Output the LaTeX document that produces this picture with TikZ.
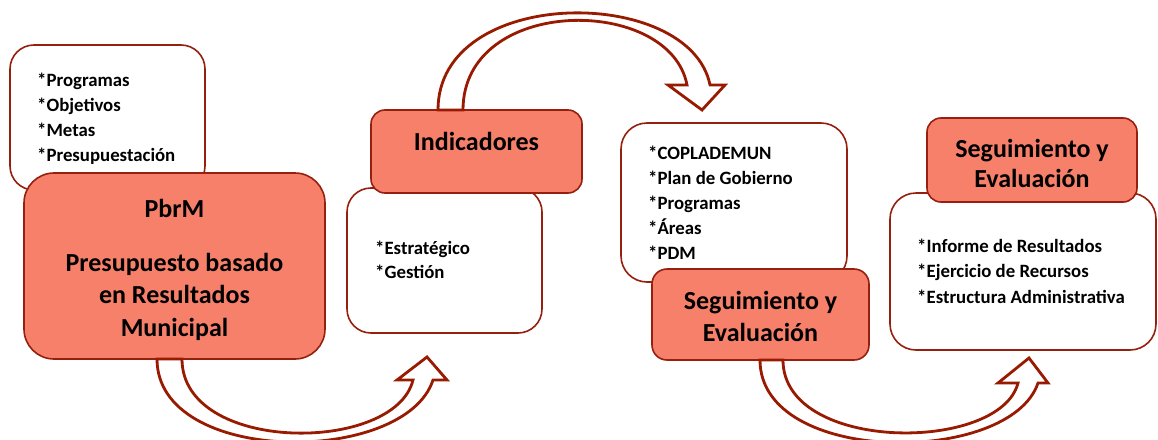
\documentclass[tikz,border=0pt]{standalone}
\usepackage{fontspec}
\setmainfont{Carlito}
\definecolor{salmon}{RGB}{247,128,107}
\definecolor{bord}{RGB}{150,32,14}
\definecolor{arrowc}{RGB}{152,26,0}
\begin{document}
\begin{tikzpicture}[x=1pt,y=-1pt,
  wbox/.style={draw=bord, line width=1.6pt, fill=white, inner sep=0pt, rounded corners=#1},
  rbox/.style={draw=bord, line width=1.6pt, fill=salmon, inner sep=0pt, rounded corners=#1},
  listtxt/.style={font=\fontsize{18.8}{22}\selectfont\bfseries, inner sep=0pt, anchor=base west},
  headtxt/.style={font=\fontsize{26}{31}\selectfont\bfseries, inner sep=0pt, anchor=base},
  blockarrow/.style={draw=arrowc, line width=2.8pt, fill=white, line join=miter}]
\useasboundingbox (0,0) rectangle (1158,439);
\clip (0,0) rectangle (1158,439);
% white boxes
\node[wbox=24pt, minimum width=195pt, minimum height=145pt] (w1) at (107.5,117.5) {};
\node[wbox=24pt, minimum width=195pt, minimum height=145pt] (w2) at (444.5,260.5) {};
\node[wbox=26pt, minimum width=226pt, minimum height=159pt] (w3) at (734,202.5) {};
\node[wbox=26pt, minimum width=266pt, minimum height=157pt] (w4) at (1023,271.5) {};
% red boxes
\node[rbox=30pt, minimum width=301pt, minimum height=186pt] (r1) at (174.5,266) {};
\node[rbox=14pt, minimum width=211pt, minimum height=83pt] (r2) at (476.5,151.5) {};
\node[rbox=15pt, minimum width=217pt, minimum height=91pt] (r3) at (760.5,314.5) {};
\node[rbox=14pt, minimum width=210pt, minimum height=84pt] (r4) at (1032,160) {};
% list texts
\foreach \t [count=\i] in {*Programas,*Objetivos,*Metas,*Presupuestación}
  \node[listtxt] (l1\i) at (37,86+25*\i-25) {\t};
\foreach \t [count=\i] in {*Estratégico,*Gestión}
  \node[listtxt] (l2\i) at (375,254+24.5*\i-24.5) {\t};
\foreach \t [count=\i] in {*COPLADEMUN,*Plan de Gobierno,*Programas,*Áreas,*PDM}
  \node[listtxt] (l3\i) at (648,159+25*\i-25) {\t};
\foreach \t [count=\i] in {*Informe de Resultados,*Ejercicio de Recursos,*Estructura Administrativa}
  \node[listtxt] (l4\i) at (917,252+25.5*\i-25.5) {\t};
% headings
\begin{scope}
\clip (24,173) rectangle (325,341);
\node[headtxt] (h1a) at (174.5,217) {PbrM};
\node[headtxt] (h1b) at (174.5,271) {Presupuesto basado};
\node[headtxt] (h1c) at (174.5,303) {en Resultados};
\node[headtxt] (h1d) at (174.5,336) {Municipal};
\end{scope}
\node[headtxt] (h2) at (476.5,150) {Indicadores};
\node[headtxt] (h3a) at (760.5,309) {Seguimiento y};
\node[headtxt] (h3b) at (760.5,341.5) {Evaluación};
\node[headtxt] (h4a) at (1032,157) {Seguimiento y};
\node[headtxt] (h4b) at (1032,187) {Evaluación};
% block arrows
\draw[blockarrow] (157,359) -- (182,359) .. controls (182,454) and (395,454) .. (413,380)
  -- (397,380) -- (427,357) -- (447,380) -- (433,380)
  .. controls (405,466) and (157,466) .. (157,359) -- cycle;
\draw[blockarrow] (438,110) -- (463,110) .. controls (463,-5) and (670,-5) .. (687,85)
  -- (668,85) -- (702,110) -- (725,85) -- (710,85)
  .. controls (690,-15) and (438,-15) .. (438,110) -- cycle;
\draw[blockarrow] (760,360) -- (783,360) .. controls (783,453) and (1000,453) .. (1018,383)
  -- (998,383) -- (1029,358) -- (1048,383) -- (1038,383)
  .. controls (1010,466) and (760,466) .. (760,360) -- cycle;
\end{tikzpicture}
\end{document}
